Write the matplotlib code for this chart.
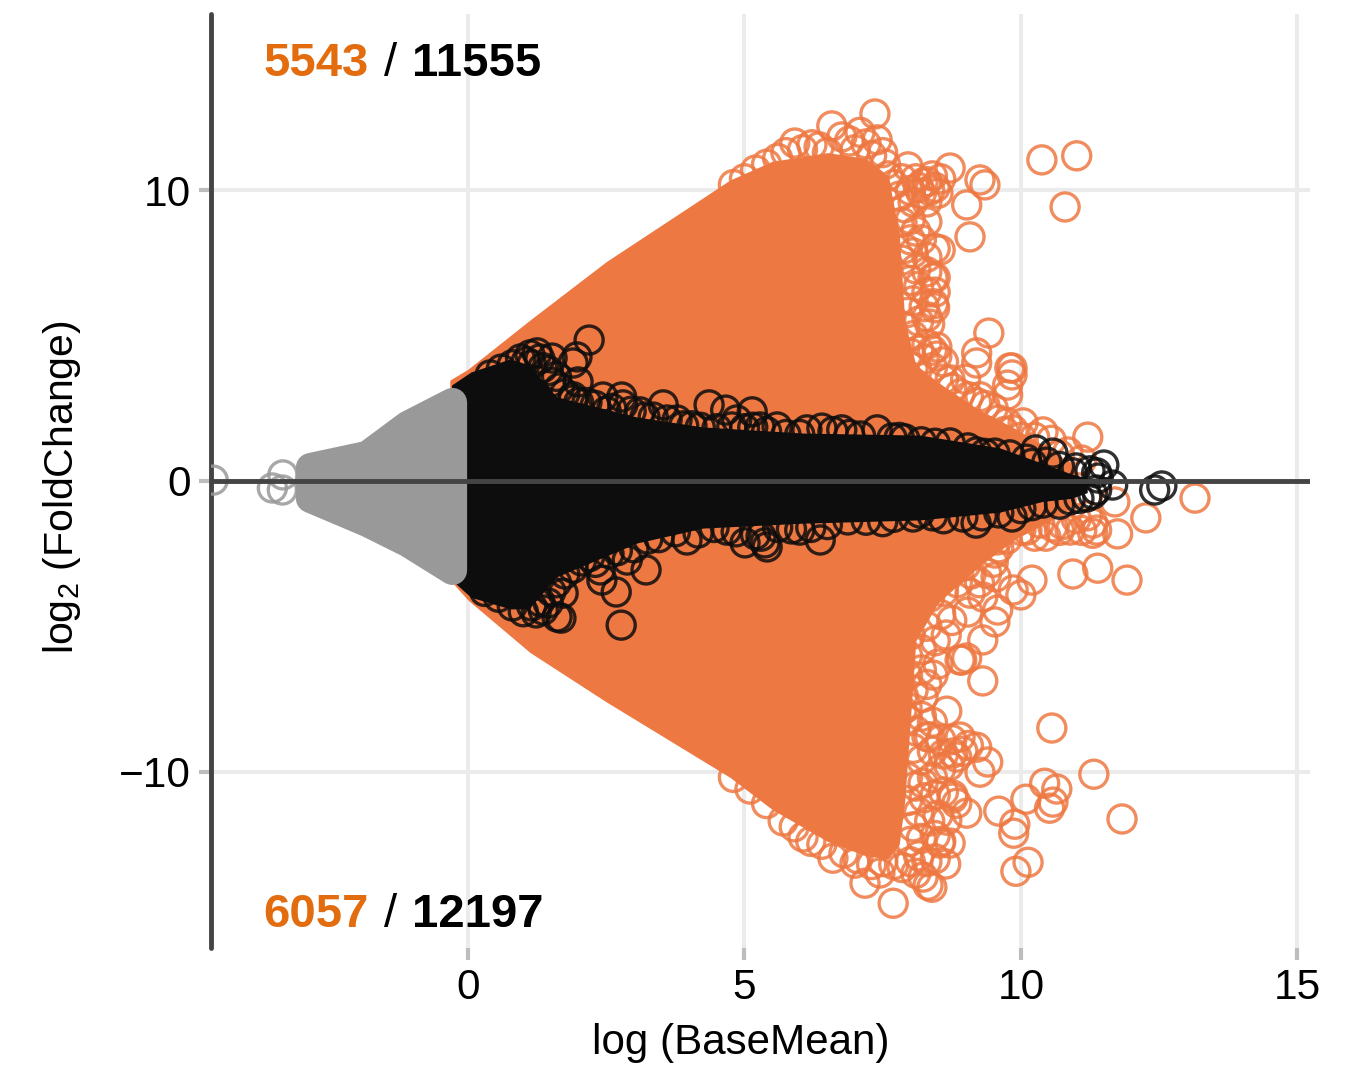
import matplotlib
matplotlib.use('Agg')
import matplotlib.pyplot as plt

plt.rcParams['font.family'] = ['Liberation Sans', 'DejaVu Sans']
plt.rcParams['mathtext.fontset'] = 'custom'
plt.rcParams['mathtext.rm'] = 'Liberation Sans'
plt.rcParams['mathtext.default'] = 'regular'

orange_band_x = [-0.33, 0, 1.12, 2.5, 4.74, 5.5, 6.5, 7.2, 7.6, 7.8, 7.9, 8.1, 8.5, 9.2, 9.9, 10.6, 11]
orange_band_up = [3.47, 3.85, 5.54, 7.55, 10.36, 11.0, 11.3, 11.1, 10.5, 8.5, 5.5, 4.0, 3.4, 2.5, 1.8, 1.0, 0.5]
orange_band_lo = [-3.4, -4.1, -5.9, -7.6, -10.2, -11.3, -12.4, -12.9, -13.0, -12.5, -11, -5.5, -4.2, -3.0, -2.0, -1.3, -0.8]

black_band_x = [-0.3, 0.05, 0.76, 1.1, 1.6, 3.06, 4.25, 6.06, 8.17, 9.62, 10.4, 10.9, 11.2]
black_band_up = [3.3, 3.75, 4.2, 4.0, 2.9, 2.2, 1.86, 1.65, 1.58, 1.14, 0.6, 0.25, 0.1]
black_band_lo = [-3.4, -4.0, -4.4, -4.4, -3.3, -2.13, -1.62, -1.45, -1.34, -1.07, -0.7, -0.6, -0.4]

gray_band_x = [-2.86, -1.83, -1.1, -0.29]
gray_band_up = [0.48, 0.9, 1.93, 2.72]
gray_band_lo = [-0.58, -1.41, -2.1, -3.06]

# single genes
orange_x = [7.36, 6.58, 10.38, 11.01, 10.80, 8.72, 9.26, 9.35, 9.02, 9.08, 8.54, 9.42, 9.20, 9.20, 9.80,
            7.96, 8.23, 8.30, 8.41, 8.44, 8.30, 8.48, 8.05, 7.40, 7.09, 6.76, 6.22, 5.91,
            7.69, 7.18, 8.39, 8.32, 8.64, 8.23, 6.60, 6.06, 7.00, 7.45, 8.72, 8.54, 9.02, 8.84,
            8.77, 8.77, 8.66, 8.23, 8.66, 9.31, 8.93, 8.90, 9.02, 8.41, 9.31, 10.56, 11.32, 11.83,
            10.43, 10.65, 10.58, 10.52, 10.09, 9.60, 9.89, 9.87, 10.13, 9.91, 9.40, 9.26, 9.20,
            8.90, 8.77, 8.35, 8.84, 8.23, 7.94, 7.87,
            11.21, 9.84, 9.84, 9.76, 9.76, 10.40, 10.04, 9.86, 11.10, 13.15, 12.26, 11.75, 11.70,
            10.94, 11.39, 11.92, 10.20, 10.00, 9.86, 9.58, 9.53, 9.04, 9.31, 9.08, 11.37, 10.89,
            10.58, 10.11, 11.30, 10.34, 9.57, 9.53, 9.38]
orange_y = [12.63, 12.22, 11.05, 11.19, 9.43, 10.77, 10.36, 10.19, 9.50, 8.40, 7.95, 5.09, 4.41, 4.06, 3.89,
            10.81, 10.26, 8.92, 6.99, 5.96, 5.65, 4.61, 7.85, 11.74, 12.00, 11.84, 11.57, 11.63,
            -14.53, -13.84, -13.98, -13.91, -13.18, -13.63, -12.98, -12.25, -13.15, -13.49, -12.46, -12.46, -11.43, -11.09,
            -10.91, -10.81, -11.67, -10.40, -7.92, -6.88, -6.16, -6.16, -6.09, -6.68, -5.47, -8.50, -10.09, -11.63,
            -10.40, -10.60, -11.05, -11.26, -10.95, -11.36, -11.81, -12.12, -13.12, -13.43, -9.67, -10.02, -9.16,
            -8.81, -9.36, -8.81, -9.50, -7.44, -7.78, -7.37,
            1.51, 3.89, 3.65, 3.30, 2.96, 1.69, 2.00, 1.76, 0.72, -0.59, -1.27, -1.82, -0.72,
            -3.20, -3.00, -3.41, -3.41, -3.92, -3.75, -4.44, -4.85, -4.51, -3.99, -3.86, -1.69, -1.69,
            -1.58, -1.69, -1.45, -1.45, -2.03, -2.48, -3.17]

# crowded rim of the orange cloud, upper half
rim_up_x = [4.8, 5.0, 5.2, 5.4, 5.6, 5.75, 6.05, 6.35, 6.5, 6.9, 7.0, 7.2, 7.3, 7.5, 7.55, 7.6, 7.7,
            8.1, 8.15, 8.2, 8.3, 8.35, 8.4, 8.45, 8.5, 8.55, 8.0, 7.85, 8.05, 8.3,
            7.8, 7.9, 8.0, 7.85, 8.1, 8.2, 8.0, 7.9, 8.3, 8.45, 7.85, 8.1, 8.3, 8.45,
            8.0, 8.15, 8.3, 8.45, 8.42, 8.25, 8.05, 7.95, 8.15, 8.35, 7.9, 8.05, 8.3, 8.4, 8.48, 8.6,
            8.15, 8.0, 8.25, 8.05, 8.4, 8.6, 8.75, 8.9, 9.0, 9.05, 9.2, 9.35, 9.5, 9.6, 9.75, 9.7,
            10.0, 10.25, 10.55, 10.7, 10.85, 8.72, 9.26]
rim_up_y = [10.2, 10.4, 10.7, 10.9, 11.1, 11.3, 11.4, 11.5, 11.3, 11.7, 11.4, 11.6, 11.2, 11.3, 10.9, 10.5, 10.2,
            10.4, 10.1, 9.9, 10.3, 10.0, 10.5, 10.1, 9.9, 10.4, 10.0, 10.4, 9.6, 9.6,
            9.8, 9.4, 9.0, 8.9, 8.6, 8.3, 8.3, 8.0, 7.7, 8.0, 7.6, 7.3, 7.2, 7.0,
            6.9, 6.7, 6.5, 6.5, 6.1, 6.0, 6.2, 5.8, 5.5, 5.4, 5.3, 5.0, 4.7, 4.5, 4.3, 4.1,
            4.5, 4.4, 4.2, 3.9, 3.9, 3.5, 3.2, 3.0, 3.5, 2.9, 2.7, 2.6, 2.5, 2.1, 2.0, 1.7,
            1.5, 1.5, 1.4, 0.9, 1.0, 3.48, 2.9]

# crowded rim of the orange cloud, lower half
rim_lo_x = [4.8, 5.1, 5.4, 5.7, 5.9, 6.2, 6.4, 6.8, 7.05, 7.3, 7.5, 7.7, 7.85, 8.0, 8.1, 8.15, 8.3, 8.45,
            8.55, 8.45, 8.2, 8.0, 8.05, 8.35, 8.5, 8.15, 7.95, 8.25, 8.45, 8.6, 8.1, 7.95, 8.4, 8.55, 8.7,
            8.6, 8.4, 8.2, 8.05, 8.3, 8.1, 7.95, 8.55, 8.75, 8.95, 9.05, 8.2, 8.4, 7.85, 8.05, 8.3,
            7.95, 8.2, 8.5, 7.95, 8.2, 8.45, 8.65, 8.0, 8.3, 8.55, 8.75, 8.1, 8.35, 8.6, 8.85, 9.1, 9.25,
            9.0, 9.5, 9.55, 9.6, 9.75, 9.45, 8.8, 10.0, 10.25, 10.45, 10.7, 10.75, 11.0, 11.1, 11.2, 11.3]
rim_lo_y = [-10.2, -10.6, -11.1, -11.7, -11.9, -12.4, -12.5, -12.8, -13.0, -13.2, -13.1, -13.2, -13.3, -13.1, -13.5, -12.9, -13.1, -13.0,
            -12.4, -12.2, -12.3, -12.4, -11.9, -11.7, -11.5, -11.4, -11.0, -10.9, -10.8, -10.7, -10.5, -10.2, -10.2, -9.9, -9.8,
            -9.4, -9.3, -9.6, -9.2, -8.8, -8.6, -8.2, -8.9, -8.9, -9.3, -9.1, -8.1, -8.3, -7.9, -7.2, -7.0,
            -6.7, -6.5, -6.3, -6.0, -5.8, -5.5, -5.3, -5.3, -5.0, -4.6, -4.8, -4.3, -4.0, -3.8, -3.5, -3.2, -3.5,
            -2.9, -2.8, -3.3, -2.3, -2.0, -1.9, -3.0, -1.7, -1.9, -1.9, -1.7, -1.5, -1.3, -1.7, -1.2, -1.8]

black_x = [2.19, 1.97, 1.99, 1.90, 1.25, 1.12, 1.52, 2.44, 2.78, 2.80, 1.90, 3.53, 3.78, 4.36, 4.66, 5.14,
           4.86, 4.77, 5.59, 5.28, 6.13, 6.40, 6.76, 7.40, 7.67, 3.11,
           2.77, 2.68, 3.22, 2.42, 1.68, 1.61, 1.23, 1.36, 1.72, 2.39, 2.88, 3.96, 4.16, 5.01, 5.41, 5.37,
           6.37, 6.87, 6.00, 4.68, 8.05,
           11.50, 12.55, 12.42, 11.66, 11.37, 10.58, 10.27, 10.94, 10.47, 11.37, 11.19, 10.89, 10.40, 9.84,
           9.19, 8.95, 9.53, 9.04, 8.72, 8.17]
black_y = [4.85, 4.27, 3.41, 4.06, 4.41, 4.34, 4.23, 2.89, 2.89, 2.62, 2.79, 2.62, 2.10, 2.62, 2.44, 2.38,
           2.10, 1.86, 1.86, 1.86, 1.76, 1.82, 1.76, 1.76, 1.48, 2.38,
           -4.96, -3.82, -3.06, -3.41, -4.72, -4.68, -4.54, -4.44, -3.86, -3.06, -2.72, -2.03, -1.79, -2.13, -2.27, -2.13,
           -2.03, -1.34, -1.69, -1.69, -1.24,
           0.55, -0.17, -0.31, -0.14, 0.28, 0.96, 1.07, 0.28, 0.65, -0.31, -0.55, -0.65, -0.76, -1.24,
           -1.45, -1.24, 0.96, 1.14, 1.31, -1.10]

# crowded edge of the black band
black_edge_x = [0.4, 0.6, 0.8, 0.95, 1.05, 1.15, 1.3, 1.35, 1.45, 1.6, 1.5, 1.65, 1.75, 1.9, 2.0, 2.15, 2.3, 2.5, 2.6, 2.95,
                3.2, 3.35, 3.6, 3.9, 4.05, 4.2, 4.5, 5.0, 5.15, 5.4, 5.75, 6.0, 6.6, 6.9, 7.1, 7.8, 7.9, 8.2, 8.45,
                9.2, 9.35, 9.8, 10.1, 10.2, 10.7, 11.0, 11.25, 11.4,
                0.3, 0.55, 0.8, 1.0, 1.15, 1.3, 1.45, 1.5, 1.6, 1.75, 1.9, 2.05, 2.2, 2.3, 2.55, 2.7, 3.0, 3.25, 3.45, 3.75,
                4.45, 4.85, 5.2, 5.3, 5.6, 5.85, 6.2, 6.5, 7.2, 7.5, 7.7, 8.4, 8.6, 9.3, 9.6, 10.0, 10.2, 10.7, 11.05, 11.3]
black_edge_y = [3.65, 3.85, 4.0, 4.2, 4.1, 4.0, 4.2, 3.9, 3.8, 3.6, 3.4, 3.2, 3.0, 2.9, 2.7, 2.7, 2.6, 2.4, 2.5, 2.4,
                2.2, 2.2, 2.1, 1.9, 1.9, 1.85, 1.8, 1.8, 1.85, 1.7, 1.6, 1.6, 1.7, 1.6, 1.55, 1.5, 1.45, 1.35, 1.3,
                1.0, 0.95, 0.9, 0.75, 0.6, 0.5, 0.45, 0.35, 0.1,
                -3.8, -4.0, -4.3, -4.5, -4.3, -4.15, -4.2, -3.8, -3.5, -3.2, -3.0, -2.75, -2.6, -2.8, -2.5, -2.4, -2.3, -2.0, -1.95, -1.75,
                -1.6, -1.75, -1.85, -1.9, -1.6, -1.65, -1.6, -1.5, -1.35, -1.4, -1.25, -1.2, -1.3, -1.2, -1.1, -0.95, -0.85, -0.8, -0.6, -0.45]

gray_x = [-3.54, -3.35, -3.36, -4.61]
gray_y = [-0.24, 0.21, -0.31, 0.03]

xticks = [0, 5, 10, 15]
yticks = [-10, 0, 10]

ORANGE = '#ee7842'
LABEL_ORANGE = '#e36c0f'
AXIS = '#444444'
GRID = '#ebebeb'

W, H = 1369, 1069
fig = plt.figure(figsize=(W / 100, H / 100), dpi=100)
ax = fig.add_axes([211 / W, (H - 948) / H, (1310 - 211) / W, (948 - 14) / H])
ax.set_xlim(-4.65, 15.23)
ax.set_ylim(-16.07, 16.07)

ax.grid(True, color=GRID, linewidth=2.9, zorder=0)
ax.set_axisbelow(True)
ax.set_xticks(xticks)
ax.set_yticks(yticks)
ax.set_yticklabels(['\u221210', '0', '10'])
ax.tick_params(axis='both', length=8.5, width=3, color='#bdbdbd', labelsize=30.5, labelcolor='black', pad=6)

for s in ['top', 'right', 'bottom']:
    ax.spines[s].set_visible(False)
ax.spines['left'].set_color(AXIS)
ax.spines['left'].set_linewidth(3.5)
ax.spines['left'].set_capstyle('round')

# dense parts
ax.fill_between(orange_band_x, orange_band_lo, orange_band_up, color=ORANGE, lw=0, zorder=2)
for xs, ys in [(orange_x, orange_y), (rim_up_x, rim_up_y), (rim_lo_x, rim_lo_y)]:
    ax.scatter(xs, ys, s=408, facecolors='none', edgecolors=ORANGE, linewidths=2.4, alpha=0.85, zorder=3)

ax.fill_between(black_band_x, black_band_lo, black_band_up, color='#0d0d0d', lw=0, zorder=4)
for xs, ys in [(black_x, black_y), (black_edge_x, black_edge_y)]:
    ax.scatter(xs, ys, s=408, facecolors='none', edgecolors='#0d0d0d', linewidths=2.4, alpha=0.85, zorder=5)

ax.fill_between(gray_band_x, gray_band_lo, gray_band_up, facecolor='#999999', edgecolor='#999999',
                lw=21, joinstyle='round', zorder=6)
ax.scatter(gray_x, gray_y, s=408, facecolors='none', edgecolors='#999999', linewidths=2.4, alpha=0.85, zorder=6)

ax.axhline(0, color=AXIS, linewidth=3.5, zorder=7)

ax.set_xlabel('log (BaseMean)', fontsize=30.3, labelpad=11, x=0.482)
ax.set_ylabel('log$_2$ (FoldChange)', fontsize=29.5, labelpad=26, y=0.4936)

# up / down counts
for y, first, second in [(13.94, '5543', '11555'), (-15.35, '6057', '12197')]:
    ax.text(-3.70, y, first, color=LABEL_ORANGE, fontsize=34, fontweight='bold', zorder=8)
    ax.text(-1.52, y, '/', color='black', fontsize=34, zorder=8)
    ax.text(-1.01, y, second, color='black', fontsize=34, fontweight='bold', zorder=8)

fig.savefig('out.png', dpi=100)
